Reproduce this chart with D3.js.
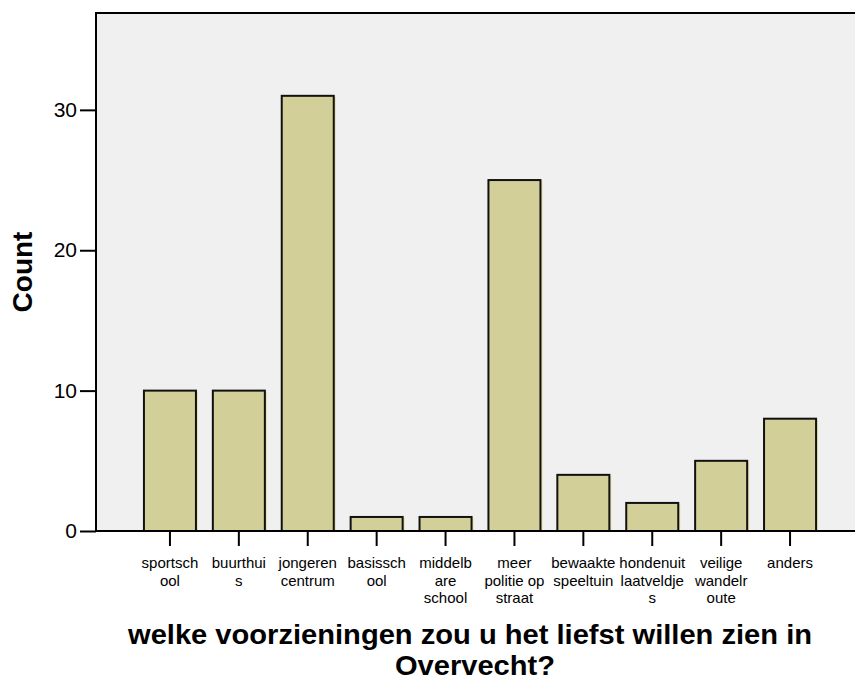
<!DOCTYPE html>
<html>
<head>
<meta charset="utf-8">
<script src="https://cdn.jsdelivr.net/npm/d3@7"></script>
<style>
  html, body { margin: 0; padding: 0; background: #fff; }
  svg { display: block; font-family: "Liberation Sans", Arial, sans-serif; }
</style>
</head>
<body>
<svg id="chart" width="855" height="681"></svg>
<script>
// --- data ---
const categories = [
  'sportschool', 'buurthuis', 'jongerencentrum', 'basisschool', 'middelbare school',
  'meer politie op straat', 'bewaakte speeltuin', 'hondenuitlaatveldjes',
  'veilige wandelroute', 'anders'
];
// wrapped the way the original label boxes break them
const categoryLines = [
  ['sportsch', 'ool'],
  ['buurthui', 's'],
  ['jongeren', 'centrum'],
  ['basissch', 'ool'],
  ['middelb', 'are', 'school'],
  ['meer', 'politie op', 'straat'],
  ['bewaakte', 'speeltuin'],
  ['hondenuit', 'laatveldje', 's'],
  ['veilige', 'wandelr', 'oute'],
  ['anders']
];
const counts = [10, 10, 31, 1, 1, 25, 4, 2, 5, 8];
const yTicks = [0, 10, 20, 30];
const yMax = 36.9;

const svg = d3.select('#chart');

// plot frame
const plotL = 96, plotT = 13, plotR = 855, plotB = 531;

const x = d3.scaleBand()
  .domain(categories)
  .range([135.5, 824.5])
  .paddingInner(0.245)
  .paddingOuter(0.1225);

const y = d3.scaleLinear().domain([0, yMax]).range([plotB, plotT]);

// background
svg.append('rect')
  .attr('x', plotL).attr('y', plotT)
  .attr('width', plotR - plotL).attr('height', plotB - plotT)
  .attr('fill', '#f0f0f0');

// bars: pale strip on the right then the outlined bar
const bars = svg.append('g');
bars.selectAll('rect.shade')
  .data(counts)
  .join('rect')
  .attr('class', 'shade')
  .attr('x', (d, i) => x(categories[i]) + 2)
  .attr('y', d => y(d) + 1)
  .attr('width', x.bandwidth())
  .attr('height', d => plotB - y(d) - 1)
  .attr('fill', '#e4e0a6');

bars.selectAll('rect.bar')
  .data(counts)
  .join('rect')
  .attr('class', 'bar')
  .attr('x', (d, i) => x(categories[i]))
  .attr('y', d => y(d))
  .attr('width', x.bandwidth())
  .attr('height', d => plotB - y(d))
  .attr('fill', '#d3cf98')
  .attr('stroke', '#111')
  .attr('stroke-width', 2);

// frame lines (top + left + bottom)
svg.append('path')
  .attr('d', `M${plotR},${plotT}H${plotL}V${plotB}H${plotR}`)
  .attr('fill', 'none')
  .attr('stroke', '#000')
  .attr('stroke-width', 2);

// y axis
const yAxis = svg.append('g')
  .attr('transform', `translate(${plotL},0)`)
  .call(d3.axisLeft(y).tickValues(yTicks).tickSize(16).tickPadding(3).tickFormat(d3.format('d')));
yAxis.select('.domain').remove();
yAxis.selectAll('.tick line').attr('stroke', '#000').attr('stroke-width', 2);
yAxis.selectAll('.tick text')
  .attr('font-family', '"Liberation Sans", Arial, sans-serif')
  .attr('font-size', 21)
  .attr('fill', '#000');

// x axis with multi-line labels
const xAxis = svg.append('g')
  .attr('transform', `translate(0,${plotB})`)
  .call(d3.axisBottom(x).tickSize(15).tickFormat(''));
xAxis.select('.domain').remove();
xAxis.selectAll('.tick line').attr('stroke', '#000').attr('stroke-width', 2);

const labels = svg.append('g')
  .attr('font-size', 15)
  .attr('text-anchor', 'middle')
  .attr('fill', '#000');
labels.selectAll('text')
  .data(categories)
  .join('text')
  .attr('x', d => x(d) + x.bandwidth() / 2)
  .attr('y', 568)
  .each(function (d, i) {
    const t = d3.select(this);
    categoryLines[i].forEach((line, k) => {
      t.append('tspan')
        .attr('x', x(d) + x.bandwidth() / 2)
        .attr('dy', k === 0 ? 0 : 17.5)
        .text(line);
    });
  });

// axis titles
svg.append('text')
  .attr('transform', 'translate(32,272) rotate(-90)')
  .attr('text-anchor', 'middle')
  .attr('font-size', 28)
  .attr('font-weight', 'bold')
  .text('Count');

// two separate lines, stretched a little to the reference width
svg.append('text')
  .attr('x', 470).attr('y', 644)
  .attr('text-anchor', 'middle')
  .attr('font-size', 27)
  .attr('font-weight', 'bold')
  .attr('textLength', 684)
  .attr('lengthAdjust', 'spacingAndGlyphs')
  .text('welke voorzieningen zou u het liefst willen zien in');
svg.append('text')
  .attr('x', 475).attr('y', 675)
  .attr('text-anchor', 'middle')
  .attr('font-size', 27)
  .attr('font-weight', 'bold')
  .attr('textLength', 160)
  .attr('lengthAdjust', 'spacingAndGlyphs')
  .text('Overvecht?');
</script>
</body>
</html>
